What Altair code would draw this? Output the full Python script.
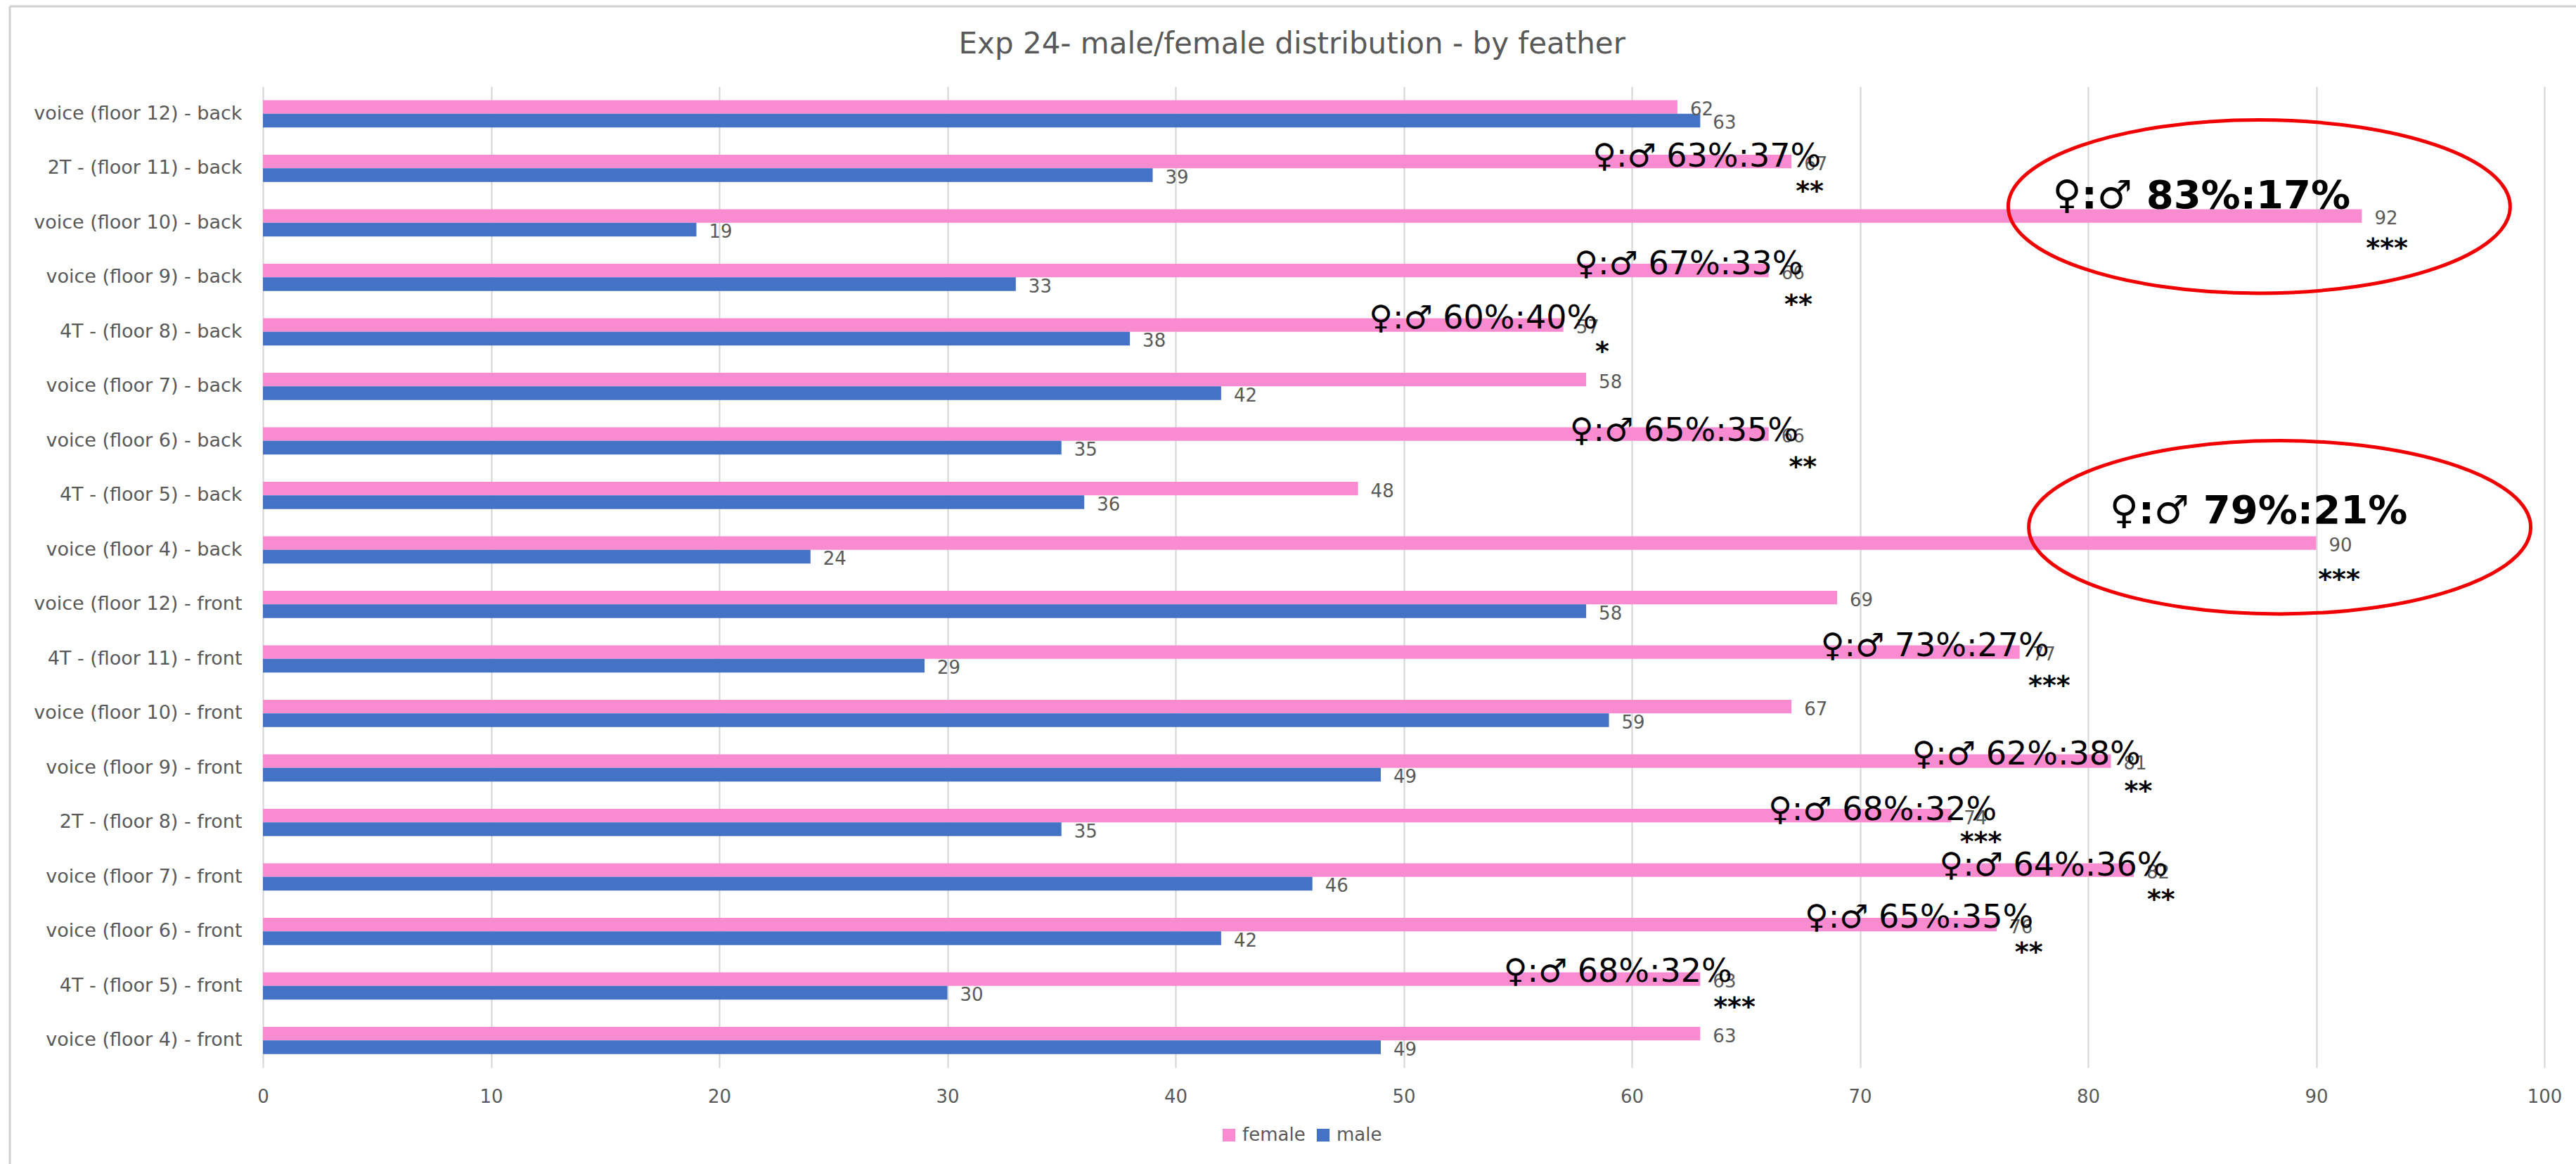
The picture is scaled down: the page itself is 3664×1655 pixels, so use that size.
import altair as alt
import pandas as pd

# Counts per feather group, listed from the top row down
categories = [
    "voice (floor 12) - back", "2T - (floor 11) - back", "voice (floor 10) - back",
    "voice (floor 9) - back", "4T - (floor 8) - back", "voice (floor 7) - back",
    "voice (floor 6) - back", "4T - (floor 5) - back", "voice (floor 4) - back",
    "voice (floor 12) - front", "4T - (floor 11) - front", "voice (floor 10) - front",
    "voice (floor 9) - front", "2T - (floor 8) - front", "voice (floor 7) - front",
    "voice (floor 6) - front", "4T - (floor 5) - front", "voice (floor 4) - front",
]
female = [62, 67, 92, 66, 57, 58, 66, 48, 90, 69, 77, 67, 81, 74, 82, 76, 63, 63]
male = [63, 39, 19, 33, 38, 42, 35, 36, 24, 58, 29, 59, 49, 35, 46, 42, 30, 49]

# Ratio callouts: row, text, right edge on the x axis, pixel shift from the row centre
ratio_rows = [1, 3, 4, 6, 10, 12, 13, 14, 15, 16]
ratio_text = ["63%:37%", "67%:33%", "60%:40%", "65%:35%", "73%:27%",
              "62%:38%", "68%:32%", "64%:36%", "65%:35%", "68%:32%"]
ratio_right = [68.3, 67.5, 58.5, 67.3, 78.3, 82.3, 76.0, 83.5, 77.6, 64.4]
ratio_shift = [-2, -4, -5, 0, -4, -5, -3, -2, -5, -6]

strong_rows = [2, 8]
strong_text = ["83%:17%", "79%:21%"]
strong_right = [91.5, 94.0]
strong_shift = [-21, -38]

# Significance stars: row, stars, centre on the x axis, pixel shift from the row centre
star_rows = [1, 2, 3, 4, 6, 8, 10, 12, 13, 14, 15, 16]
star_text = ["**", "***", "**", "*", "**", "***", "***", "**", "***", "**", "**", "***"]
star_x = [67.8, 93.1, 67.3, 58.7, 67.5, 91.0, 78.3, 82.2, 75.3, 83.2, 77.4, 64.5]
star_shift = [26, 29, 32, 21, 30, 35, 31, 26, 21, 25, 23, 23]

# Circled rows: row, centre on the x axis, pixel shift from the row centre
ring_rows = [2, 8]
ring_x = [87.5, 88.4]
ring_shift = [-23, -32]

FONT = "DejaVu Sans"
GREY = "#595959"
PINK = "#F98BD1"
BLUE = "#4472C4"

PLOT_H = 1395
STEP = PLOT_H / len(categories)
PADDING_INNER = 0.5
# An offset channel counts from the top of the band, so shifts get half a band added
HALF_BAND = STEP * (1 - PADDING_INNER) / 2


def from_centre(shifts):
    return [s + HALF_BAND for s in shifts]


bars = pd.DataFrame(
    [{"cat": c, "sex": "female", "n": f} for c, f in zip(categories, female)]
    + [{"cat": c, "sex": "male", "n": m} for c, m in zip(categories, male)]
)
ratios = pd.DataFrame({
    "cat": [categories[i] for i in ratio_rows],
    "label": ["♀:♂ " + t for t in ratio_text],
    "x": ratio_right,
    "shift": from_centre(ratio_shift),
})
strong = pd.DataFrame({
    "cat": [categories[i] for i in strong_rows],
    "label": ["♀:♂ " + t for t in strong_text],
    "x": strong_right,
    "shift": from_centre(strong_shift),
})
stars = pd.DataFrame({
    "cat": [categories[i] for i in star_rows],
    "label": star_text,
    "x": star_x,
    "shift": from_centre(star_shift),
})
rings = pd.DataFrame({
    "cat": [categories[i] for i in ring_rows],
    "x": ring_x,
    "shift": from_centre(ring_shift),
})

x_scale = alt.Scale(domain=[0, 100], nice=False)
y_enc = alt.Y(
    "cat:N", sort=categories, title=None,
    scale=alt.Scale(paddingInner=PADDING_INNER, paddingOuter=PADDING_INNER / 2),
    axis=alt.Axis(labelFont=FONT, labelFontSize=27, labelColor=GREY, ticks=False,
                  domain=False, grid=False, labelPadding=30, labelLimit=400),
)
x_enc = alt.X(
    "n:Q", scale=x_scale, title=None,
    axis=alt.Axis(values=list(range(0, 101, 10)), labelFont=FONT, labelFontSize=26,
                  labelColor=GREY, ticks=False, domain=False, grid=True, labelFlush=False,
                  gridColor="#d4d4d4", gridWidth=2, labelPadding=28),
)
offset_enc = alt.YOffset("sex:N", sort=["female", "male"])

bar_layer = alt.Chart(bars).mark_bar().encode(
    y=y_enc, x=x_enc, yOffset=offset_enc,
    color=alt.Color(
        "sex:N", sort=["female", "male"], title=None,
        scale=alt.Scale(domain=["female", "male"], range=[PINK, BLUE]),
        legend=alt.Legend(orient="none", legendX=1361, legendY=1478, direction="horizontal",
                          symbolType="square", symbolSize=330, labelFont=FONT,
                          labelFontSize=26, labelColor=GREY, columnPadding=12, labelOffset=6),
    ),
)
value_layer = alt.Chart(bars).mark_text(
    font=FONT, fontSize=26, color=GREY, align="left", baseline="middle", dx=18, dy=4,
).encode(y=y_enc, x=x_enc, yOffset=offset_enc, text="n:Q")


def shifted_text(frame, **mark):
    return alt.Chart(frame).mark_text(font=FONT, color="black", **mark).encode(
        y=alt.Y("cat:N", sort=categories),
        x=alt.X("x:Q", scale=x_scale),
        yOffset=alt.YOffset("shift:Q", scale=None),
        text="label:N",
    )


ratio_layer = shifted_text(ratios, fontSize=46, align="right", baseline="alphabetic")
strong_layer = shifted_text(strong, fontSize=56, fontWeight="bold", align="right", baseline="alphabetic")
star_layer = shifted_text(stars, fontSize=38, fontWeight="bold", align="center", baseline="middle", dy=8)

# Unit ellipse scaled by the symbol size, stroked in red around the two strongest rows
ring_layer = alt.Chart(rings).mark_point(
    shape="M -1 0 A 1 0.345 0 1 1 1 0 A 1 0.345 0 1 1 -1 0 Z",
    size=509796, filled=False, stroke="#F00000", strokeWidth=5, opacity=1,
).encode(
    y=alt.Y("cat:N", sort=categories),
    x=alt.X("x:Q", scale=x_scale),
    yOffset=alt.YOffset("shift:Q", scale=None),
)

# Thin grey frame along the top and left of the chart
frame_top = alt.Chart().mark_rule(color="#d0d0d0", strokeWidth=3, clip=False).encode(
    x=alt.value(-360), x2=alt.value(3290), y=alt.value(-114)
)
frame_left = alt.Chart().mark_rule(color="#d0d0d0", strokeWidth=3, clip=False).encode(
    x=alt.value(-360), y=alt.value(-114), y2=alt.value(1532)
)

chart = alt.layer(
    frame_top, frame_left, bar_layer, value_layer, ring_layer, ratio_layer, strong_layer, star_layer,
).resolve_scale(y="shared", x="shared").properties(
    width=3245,
    height=PLOT_H,
    padding={"left": 374, "top": 123, "right": 45, "bottom": 137},
    autosize=alt.AutoSizeParams(type="none"),
    title=alt.TitleParams(
        "Exp 24- male/female distribution - by feather",
        font=FONT, fontSize=42, fontWeight="normal", color=GREY, anchor="start",
        dx=1351, offset=-110, baseline="alphabetic",
    ),
).configure_view(stroke=None)

chart.save("out.html", embed_options={"renderer": "svg", "actions": False})
